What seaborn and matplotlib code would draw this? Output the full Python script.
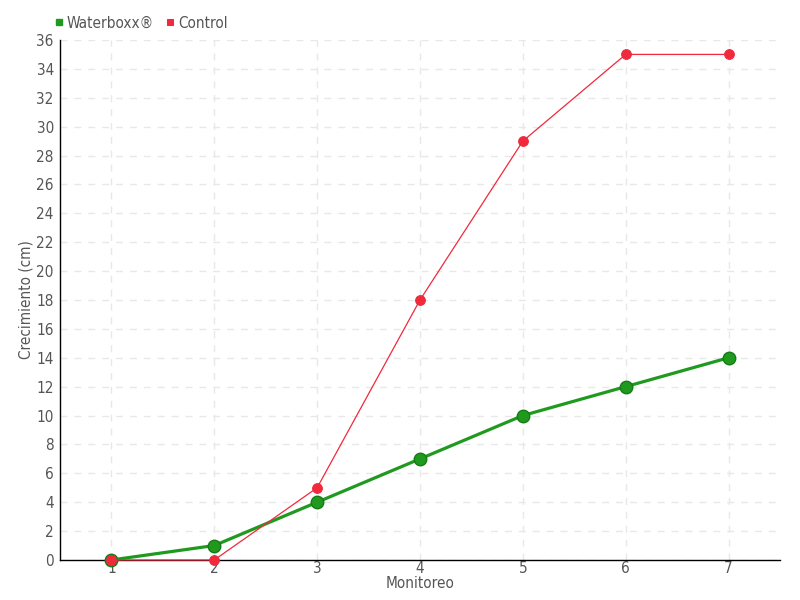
import matplotlib
matplotlib.use("Agg")
import matplotlib.pyplot as plt
import seaborn as sns
import pandas as pd

monitoreo = [1, 2, 3, 4, 5, 6, 7]
waterboxx = [0, 1, 4, 7, 10, 12, 14]
control = [0, 0, 5, 18, 29, 35, 35]

sns.set_style("white")
plt.rcParams['font.family'] = ['DejaVu Sans']
plt.rcParams['font.stretch'] = 'condensed'

df = pd.DataFrame({"Monitoreo": monitoreo, "Waterboxx®": waterboxx, "Control": control})

fig = plt.figure(figsize=(8, 6), dpi=100)
ax = fig.add_axes([0.075, 0.0667, 0.9, 0.8667])

green = "#1f9a1f"
red = "#f02a3c"
sns.lineplot(data=df, x="Monitoreo", y="Waterboxx®", ax=ax, color=green, lw=2.3,
             marker="o", markersize=9, markeredgecolor="#177a17", markeredgewidth=1,
             label="Waterboxx®", zorder=3, clip_on=False)
sns.lineplot(data=df, x="Monitoreo", y="Control", ax=ax, color=red, lw=0.9,
             marker="o", markersize=7, markeredgecolor=red, label="Control",
             zorder=4, clip_on=False)

ax.set_xlim(0.5, 7.5)
ax.set_ylim(0, 36)
ax.set_xticks(monitoreo)
ax.set_yticks(range(0, 37, 2))
ax.grid(True, ls=(0, (5, 5)), color="#e8e8e8", lw=1)
for s in ["top", "right"]:
    ax.spines[s].set_visible(False)
for s in ["left", "bottom"]:
    ax.spines[s].set_color("black")
    ax.spines[s].set_linewidth(1)
ax.tick_params(direction="inout", length=7, width=1, colors="black",
               labelcolor="#555555", labelsize=11)
ax.tick_params(axis="x", pad=-3)
ax.tick_params(axis="y", pad=1)
ax.set_xlabel("Monitoreo", color="#555555", fontsize=11, labelpad=0)
ax.set_ylabel("Crecimiento (cm)", color="#555555", fontsize=11, labelpad=2)

leg = ax.legend(loc="lower left", bbox_to_anchor=(-0.02, 1.0), ncol=2, frameon=False,
                handlelength=0.5, handletextpad=0.3, columnspacing=0.8, fontsize=11,
                borderaxespad=0.2)
for h, c in zip(leg.legend_handles, [green, red]):
    h.set_linestyle("")
    h.set_marker("s")
    h.set_markersize(5)
    h.set_markerfacecolor(c)
    h.set_markeredgecolor(c)
for t in leg.get_texts():
    t.set_color("#555555")

fig.savefig("out.png", dpi=100)
